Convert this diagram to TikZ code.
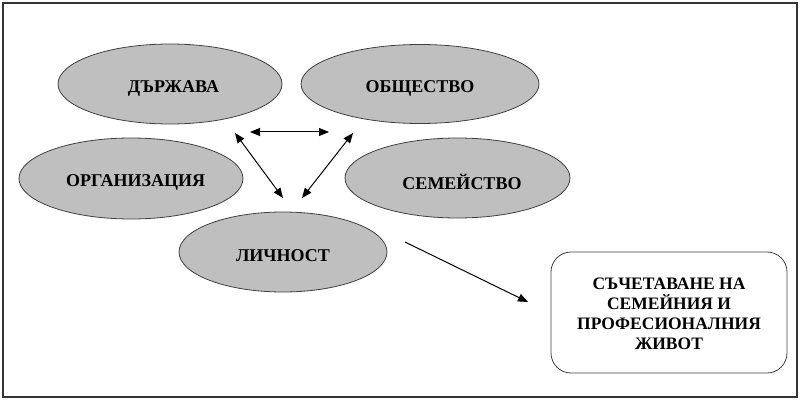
\documentclass[tikz,border=0pt]{standalone}
\usepackage{fontspec}
\setmainfont{Liberation Serif}
\usetikzlibrary{shapes.geometric,arrows.meta}
\newcommand{\shtext}[3]{\hbox{\kern#1\raisebox{#2}[\height][\depth]{#3}\kern-#1}}
\begin{document}
\begin{tikzpicture}[x=1pt,y=-1pt,
  oval/.style={ellipse,draw=black!75,fill=black!25,line width=0.8pt,inner sep=0pt,
    font=\bfseries\fontsize{18}{21}\selectfont},
  tip/.tip={Triangle[length=10pt,width=8pt]},
  conn/.style={line width=1pt,-tip},
  dconn/.style={line width=1pt,tip-tip},
  goalbox/.style={draw=black!75,line width=0.8pt,rounded corners=20pt,align=center,
    font=\bfseries\fontsize{17.5}{20}\selectfont,inner sep=0pt}]
\useasboundingbox (0,0) rectangle (800,401);
\draw[line width=1.2pt,draw=black!80] (3,3) rectangle (797,397);
\node[oval,minimum width=224pt,minimum height=80pt] (dar) at (170,84) {\shtext{3.5pt}{-4pt}{ДЪРЖАВА}};
\node[oval,minimum width=238pt,minimum height=79pt] (obs) at (420,84) {\shtext{0pt}{-4pt}{ОБЩЕСТВО}};
\node[oval,minimum width=224pt,minimum height=81pt] (org) at (131,178.5) {\shtext{4.5pt}{-4pt}{ОРГАНИЗАЦИЯ}};
\node[oval,minimum width=225pt,minimum height=80pt] (sem) at (457.5,178) {\shtext{4.5pt}{-4pt}{СЕМЕЙСТВО}};
\node[oval,minimum width=208pt,minimum height=80pt] (lic) at (283,252) {\shtext{0pt}{-4pt}{ЛИЧНОСТ}};
\node[goalbox,minimum width=236pt,minimum height=121pt] (goal) at (669,312.5)
  {\raisebox{-3pt}[\height][\depth]{\begin{tabular}{@{}c@{}}СЪЧЕТАВАНЕ НА\\СЕМЕЙНИЯ И\\ПРОФЕСИОНАЛНИЯ\\ЖИВОТ\end{tabular}}};
\coordinate (h1) at (250,132);
\coordinate (h2) at (329,132);
\coordinate (l1) at (235,133);
\coordinate (l2) at (283,198);
\coordinate (r1) at (353,133);
\coordinate (r2) at (302,198);
\coordinate (a1) at (405,242);
\coordinate (a2) at (528,302);
\draw[dconn] (h1) -- (h2);
\draw[dconn] (l1) -- (l2);
\draw[dconn] (r1) -- (r2);
\draw[conn] (a1) -- (a2);
\end{tikzpicture}
\end{document}
